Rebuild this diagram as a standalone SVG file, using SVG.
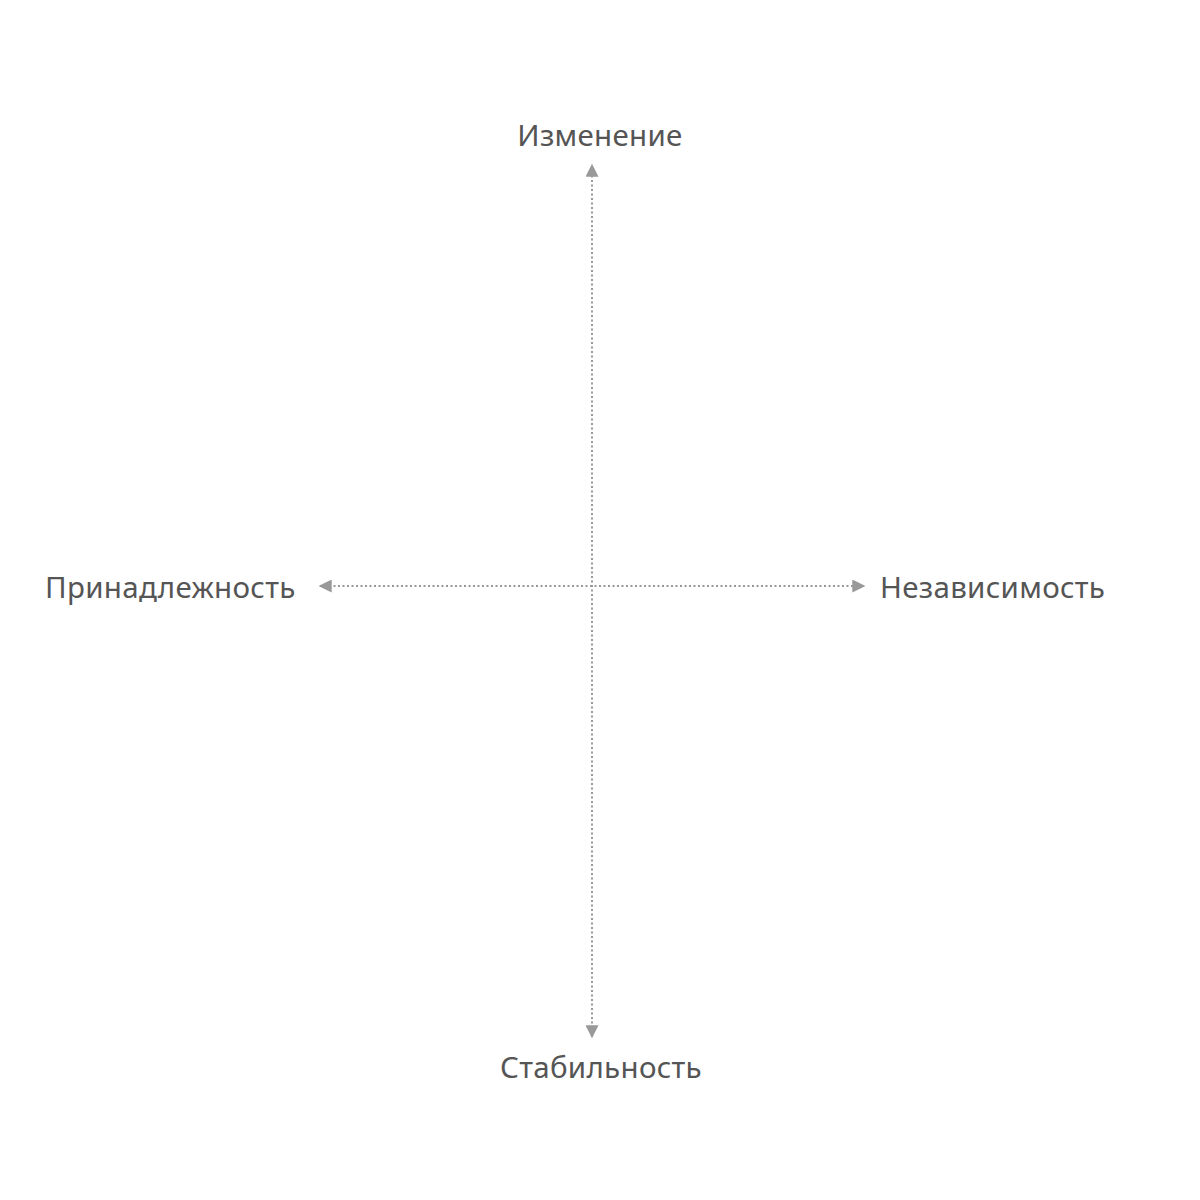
<svg xmlns="http://www.w3.org/2000/svg" width="1200" height="1200" viewBox="0 0 1200 1200">
<style>
.axis{stroke:#999;stroke-width:2;stroke-dasharray:2 2.5;fill:none}
.lbl{font-family:"Noto Sans","Liberation Sans",sans-serif;font-size:29.5px;fill:#555;letter-spacing:0.3px}
</style>
<defs>
<marker id="ah" viewBox="0 0 10 10" refX="9" refY="5" markerWidth="6.5" markerHeight="6.5" orient="auto-start-reverse" markerUnits="strokeWidth">
<path d="M0,0 L10,5 L0,10 z" fill="#999"/>
</marker>
</defs>
<rect width="1200" height="1200" fill="#fff"/>
<g id="connectors">
<line class="axis" x1="592" y1="1037" x2="592" y2="165" marker-start="url(#ah)" marker-end="url(#ah)"/>
<line class="axis" x1="320" y1="586" x2="864" y2="586" marker-start="url(#ah)" marker-end="url(#ah)"/>
</g>
<g id="top"><text class="lbl" x="600" y="146" text-anchor="middle">Изменение</text></g>
<g id="bottom"><text class="lbl" x="601" y="1078" text-anchor="middle">Стабильность</text></g>
<g id="left"><text class="lbl" x="45" y="598">Принадлежность</text></g>
<g id="right"><text class="lbl" x="880" y="598">Независимость</text></g>
</svg>
